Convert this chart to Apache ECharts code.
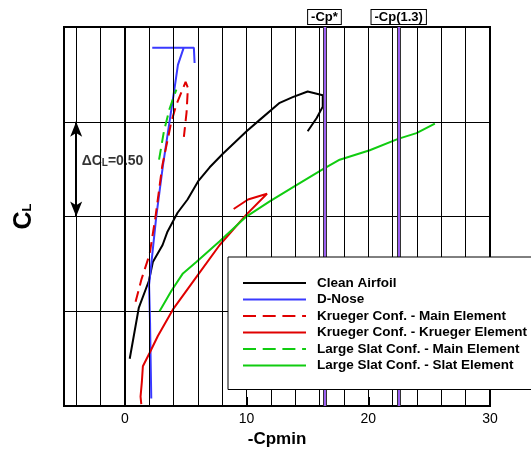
<!DOCTYPE html>
<html>
<head>
<meta charset="utf-8">
<script src="https://cdn.jsdelivr.net/npm/echarts@6/dist/echarts.min.js"></script>
<style>
  html, body { margin: 0; padding: 0; background: #fff; }
  #chart { width: 531px; height: 453px; }
</style>
</head>
<body>
<div id="chart"></div>
<script>
// -Cpmin vs CL
var cleanAirfoil = [[0.4, 0.25], [1.15, 0.52], [1.97, 0.66], [2.3, 0.76], [3.1, 0.85], [3.5, 0.92],
    [4.33, 1.02], [5.15, 1.09], [6.06, 1.19], [6.97, 1.26], [8.03, 1.33], [10.0, 1.45], [11.08, 1.51],
    [12.72, 1.6], [13.79, 1.63], [15.02, 1.66], [16.26, 1.64], [16.26, 1.58], [15.76, 1.52], [15.02, 1.45]];
var dNose = [[2.17, 0.04], [2.07, 0.44], [1.99, 0.64], [2.58, 1.0], [3.13, 1.27], [4.09, 1.68],
    [4.36, 1.8], [4.83, 1.89], [2.25, 1.89], [5.67, 1.89], [5.73, 1.81]];
var kruegerMain = [[0.88, 0.55], [1.37, 0.67], [2.03, 0.8], [2.52, 1.0], [3.08, 1.27], [3.82, 1.5],
    [4.23, 1.59], [4.99, 1.71], [5.18, 1.68], [5.07, 1.55], [4.85, 1.42]];
var kruegerElement = [[1.35, 0.01], [1.29, 0.05], [1.4, 0.13], [1.48, 0.21], [2.03, 0.28], [2.71, 0.37],
    [3.95, 0.51], [5.87, 0.68], [7.79, 0.85], [9.98, 1.01], [11.68, 1.12], [10.12, 1.09], [8.94, 1.04]];
var slatMain = [[2.81, 1.3], [3.21, 1.45], [3.68, 1.57], [4.23, 1.67]];
var slatElement = [[2.85, 0.5], [3.84, 0.61], [4.77, 0.7], [5.87, 0.76], [7.79, 0.87], [9.98, 1.0],
    [11.9, 1.08], [13.96, 1.16], [16.28, 1.25], [17.65, 1.3], [20.12, 1.35], [22.45, 1.41],
    [23.96, 1.44], [25.47, 1.49]];

var seriesNames = ['Clean Airfoil', 'D-Nose', 'Krueger Conf. - Main Element',
    'Krueger Conf. - Krueger Element', 'Large Slat Conf. - Main Element', 'Large Slat Conf. - Slat Element'];

var gridX = [-4, -2, 0, 2, 4, 6, 8, 10, 12, 14, 16, 18, 20, 22, 24, 26, 28];
var xLabels = [0, 10, 20, 30];
var cpValues = [16.4, 22.5];
var cpLabels = ['-Cp*', '-Cp(1.3)'];
var deltaArrow = [-4, 1.0, 1.5];

var font = 'Liberation Sans, Arial, Helvetica, sans-serif';
var dash = [11, 6];

function curve(name, data, color, dashed) {
    return {
        name: name,
        type: 'line',
        data: data,
        symbol: 'none',
        z: 2,
        lineStyle: { color: color, width: 2, type: dashed ? dash : 'solid' },
        itemStyle: { color: color }
    };
}

var chart = echarts.init(document.getElementById('chart'));

chart.setOption({
    animation: false,
    grid: { left: 64, right: 41, top: 27, bottom: 38, show: true, borderColor: '#000', borderWidth: 2 },
    xAxis: {
        type: 'value', min: -5, max: 30,
        name: '-Cpmin', nameLocation: 'middle', nameGap: 19,
        nameTextStyle: { fontFamily: font, fontSize: 17, fontWeight: 'bold', color: '#000' },
        axisLine: { lineStyle: { color: '#000', width: 2 } },
        axisTick: { customValues: xLabels, inside: true, length: 9, lineStyle: { color: '#000', width: 2 } },
        axisLabel: { customValues: xLabels, margin: 6, fontFamily: font, fontSize: 14, color: '#000' },
        splitLine: { show: false }
    },
    yAxis: {
        type: 'value', min: 0, max: 2, interval: 0.5,
        name: '{c|C}{l|L}', nameLocation: 'middle', nameGap: 21, nameRotate: 90,
        nameTextStyle: {
            rich: {
                c: { fontFamily: font, fontSize: 25, fontWeight: 'bold', color: '#000', padding: [0, 0, 6, 0] },
                l: { fontFamily: font, fontSize: 13, fontWeight: 'bold', color: '#000' }
            }
        },
        axisLine: { lineStyle: { color: '#000', width: 2 } },
        axisTick: { show: false },
        axisLabel: { show: false },
        splitLine: { lineStyle: { color: '#000', width: 1 } }
    },
    legend: {
        left: 228, top: 257, orient: 'vertical',
        itemWidth: 63, itemHeight: 14, itemGap: 2.5,
        padding: [19, 6, 17, 14],
        backgroundColor: '#fff', borderColor: '#000', borderWidth: 1, borderRadius: 0,
        selectedMode: false, z: 10,
        itemStyle: { opacity: 0 },
        textStyle: { fontFamily: font, fontSize: 13.5, fontWeight: 'bold', color: '#000', padding: [0, 0, 0, 6] },
        data: seriesNames.map(function(n, i) {
            var d = { name: n };
            if (i === 2 || i === 4) d.lineStyle = { type: [13, 6.7] };
            return d;
        })
    },
    series: [
        {
            name: 'gridlines', type: 'line', data: [], z: 1, silent: true,
            markLine: {
                silent: true, symbol: ['none', 'none'], animation: false,
                label: { show: false },
                lineStyle: { color: '#000', width: 1, type: 'solid' },
                data: gridX.map(function(v) { return { xAxis: v }; })
            }
        },
        {
            name: 'cpEdge', type: 'line', data: [], z: 3, silent: true,
            markLine: {
                silent: true, symbol: ['none', 'none'], animation: false,
                label: { show: false },
                lineStyle: { color: '#333', width: 4, type: 'solid' },
                data: cpValues.map(function(v) { return [{ coord: [v, 0] }, { coord: [v, 2] }]; })
            }
        },
        {
            name: 'cpLines', type: 'line', data: [], z: 3, silent: true,
            markLine: {
                silent: true, symbol: ['none', 'none'], animation: false,
                lineStyle: { color: '#9b5ff0', width: 2, type: 'solid' },
                label: {
                    show: true, position: 'end', distance: 3, formatter: '{b}',
                    fontFamily: font, fontSize: 13, fontWeight: 'bold', color: '#000',
                    backgroundColor: '#fff', borderColor: '#000', borderWidth: 1, padding: [1, 3, 0, 3]
                },
                data: cpValues.map(function(v, i) {
                    return [{ name: cpLabels[i], coord: [v, 0] }, { coord: [v, 2] }];
                })
            }
        },
        {
            name: 'deltaCL', type: 'scatter', data: [[-3.55, 1.28]], symbolSize: 0, z: 4, silent: true,
            label: {
                show: true, position: 'right', distance: 0,
                formatter: '{a|\u0394C}{s|L}{a|=0.50}',
                rich: {
                    a: { fontFamily: font, fontSize: 14, fontWeight: 'bold', color: '#000', padding: [0, 0, 4, 0] },
                    s: { fontFamily: font, fontSize: 10, fontWeight: 'bold', color: '#000' }
                }
            },
            markLine: {
                silent: true, symbol: ['arrow', 'arrow'], symbolSize: [9, 15], animation: false,
                label: { show: false },
                lineStyle: { color: '#000', width: 2, type: 'solid' },
                data: [[{ coord: [deltaArrow[0], deltaArrow[1]] }, { coord: [deltaArrow[0], deltaArrow[2]] }]]
            }
        },
        curve(seriesNames[0], cleanAirfoil, '#000000', false),
        curve(seriesNames[1], dNose, '#3a3aff', false),
        curve(seriesNames[2], kruegerMain, '#e00000', true),
        curve(seriesNames[3], kruegerElement, '#e00000', false),
        curve(seriesNames[4], slatMain, '#10cc10', true),
        curve(seriesNames[5], slatElement, '#10cc10', false)
    ]
});
</script>
</body>
</html>
